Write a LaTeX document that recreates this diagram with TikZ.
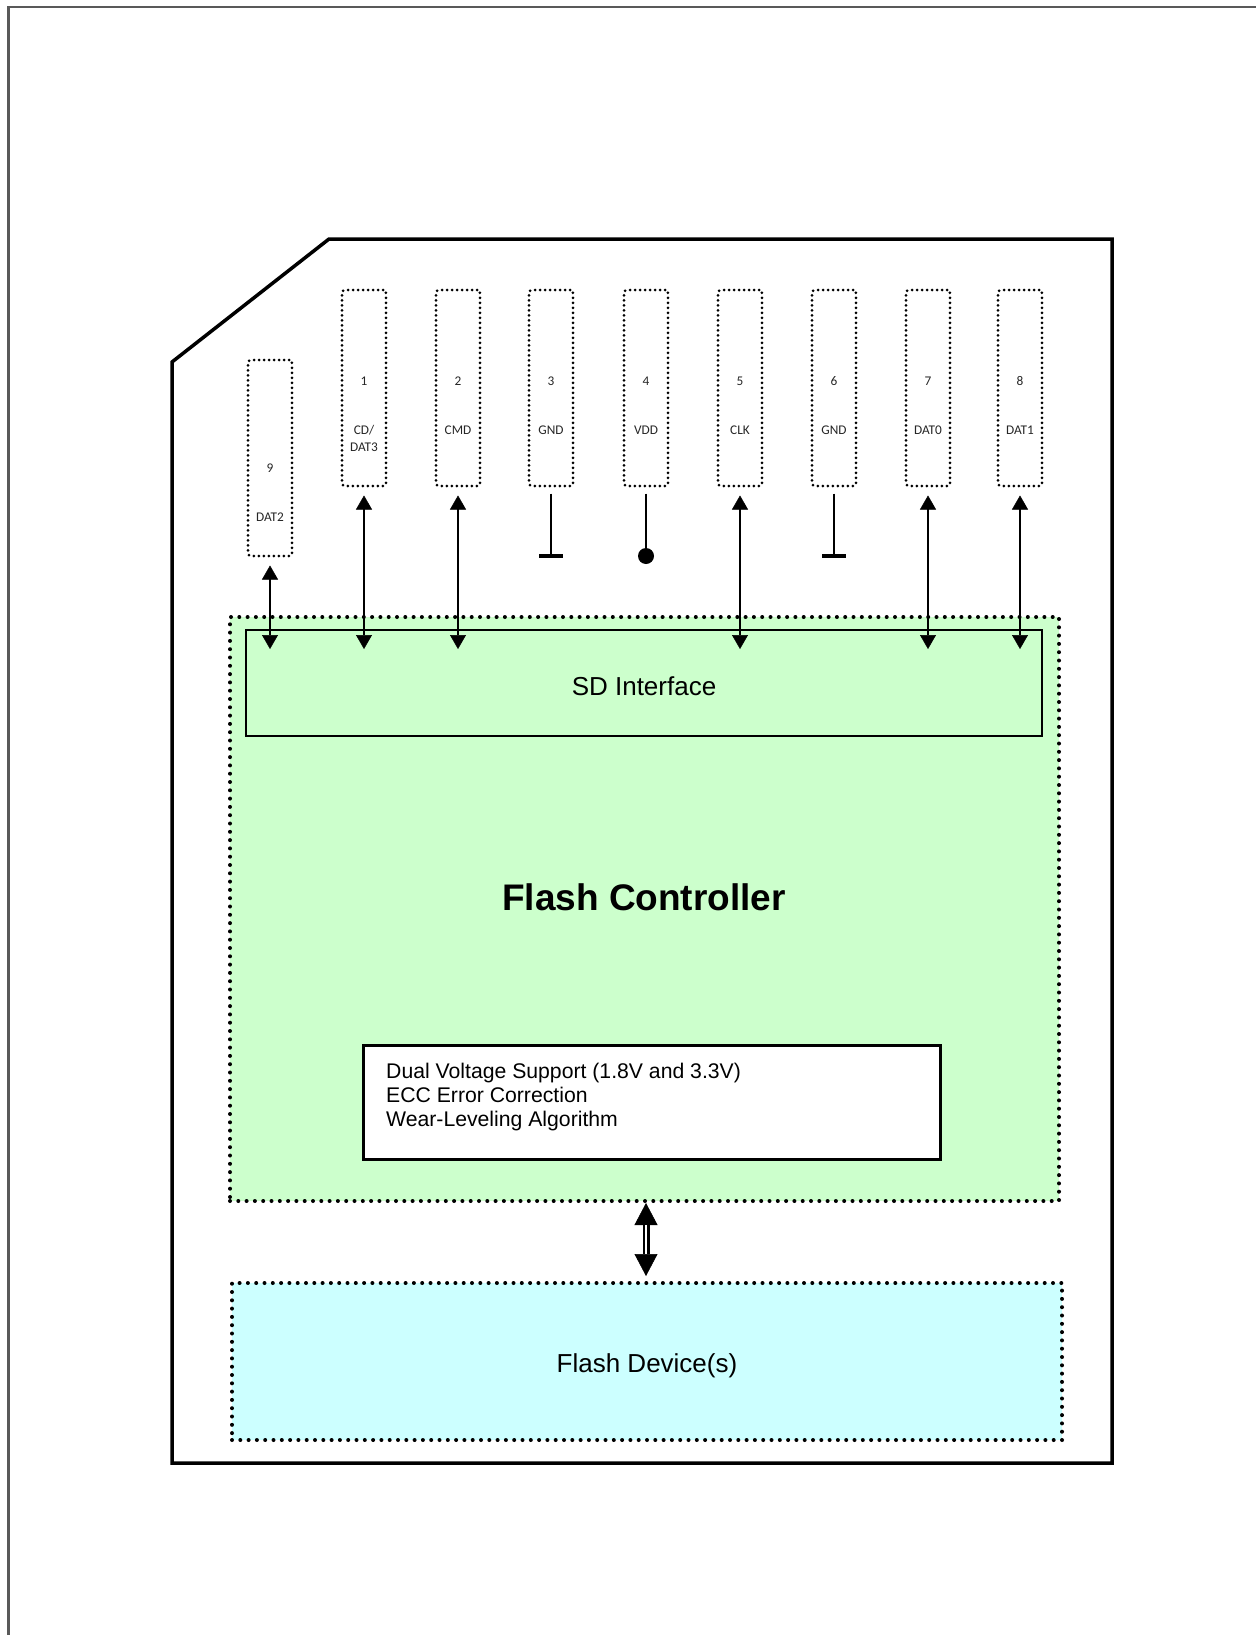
\documentclass[tikz,border=0pt]{standalone}
\usepackage{fontspec}
\setmainfont{Liberation Sans}
\newfontfamily\pinfont{Carlito}
\usetikzlibrary{arrows.meta}

\definecolor{ctrlgreen}{HTML}{CCFFCC}
\definecolor{devcyan}{HTML}{CCFFFF}

\tikzset{
    pinbox/.style={draw, line width=3pt, dash pattern=on 0pt off 5pt, line cap=round,
        rounded corners=3pt, minimum width=44pt, minimum height=196pt, inner sep=0pt},
    pintext/.style={font=\pinfont\fontsize{13.3}{17}\selectfont, text=black!85, inner sep=0pt, align=center},
    dotbox/.style={draw, line width=4pt, dash pattern=on 0pt off 8.3pt, line cap=round, inner sep=0pt},
    sig/.style={line width=2pt, >={Triangle[width=16pt,length=14pt,line width=0.5pt]}, <->},
    bus/.style={line width=7pt, >={Triangle[width=23pt,length=22pt,line width=0.5pt]}, <->},
    wire/.style={line width=2pt},
    gndbar/.style={line width=4pt}
}

\begin{document}
\begin{tikzpicture}[x=1pt, y=-1pt]
    \useasboundingbox (0,0) rectangle (1256,1635);

    % 页面边框
    \draw[black!65, line width=2.5pt] (8.7,1635) -- (8.7,7) -- (1256,7);

    % 卡片外形
    \draw[line width=3.5pt, line join=miter] (329,239) -- (1112,239) -- (1112,1463)
        -- (172,1463) -- (172,362) -- cycle;

    % 控制器
    \node[dotbox, fill=ctrlgreen, minimum width=829pt, minimum height=584pt] (ctrl) at (644.5,909) {};
    \node[draw, line width=1.5pt, minimum width=796pt, minimum height=106pt] (sdif) at (644,683) {};
    \node[font=\fontsize{26}{30}\selectfont] (sdtext) at (644,686) {SD Interface};
    \node[font=\bfseries\fontsize{37}{44}\selectfont] (ctrltext) at (644,897) {Flash Controller};
    \node[draw, fill=white, line width=3pt, minimum width=577pt, minimum height=114pt] (feat) at (651.5,1102) {};
    \node[anchor=west, align=left, inner sep=0pt, font=\fontsize{21.2}{24.3}\selectfont] (feattext) at (386,1097)
        {Dual Voltage Support (1.8V and 3.3V)\\ECC Error Correction\\Wear-Leveling Algorithm};

    % 闪存
    \node[dotbox, fill=devcyan, minimum width=830pt, minimum height=157pt] (dev) at (647,1361.5) {};
    \node[font=\fontsize{26}{30}\selectfont] (devtext) at (647,1365.5) {Flash Device(s)};

    % 引脚
    \node[pinbox] (pin9) at (270,458) {};
    \node[pintext] (num9) at (270,468) {9};
    \node[pintext] (lab9) at (270,517) {DAT2};

    \node[pinbox] (pin1) at (364,388) {};
    \node[pintext] (num1) at (364,381) {1};
    \node[pintext] (lab1) at (364,438.5) {CD/\\DAT3};

    \node[pinbox] (pin2) at (458,388) {};
    \node[pintext] (num2) at (458,381) {2};
    \node[pintext] (lab2) at (458,430) {CMD};

    \node[pinbox] (pin3) at (551,388) {};
    \node[pintext] (num3) at (551,381) {3};
    \node[pintext] (lab3) at (551,430) {GND};

    \node[pinbox] (pin4) at (646,388) {};
    \node[pintext] (num4) at (646,381) {4};
    \node[pintext] (lab4) at (646,430) {VDD};

    \node[pinbox] (pin5) at (740,388) {};
    \node[pintext] (num5) at (740,381) {5};
    \node[pintext] (lab5) at (740,430) {CLK};

    \node[pinbox] (pin6) at (834,388) {};
    \node[pintext] (num6) at (834,381) {6};
    \node[pintext] (lab6) at (834,430) {GND};

    \node[pinbox] (pin7) at (928,388) {};
    \node[pintext] (num7) at (928,381) {7};
    \node[pintext] (lab7) at (928,430) {DAT0};

    \node[pinbox] (pin8) at (1020,388) {};
    \node[pintext] (num8) at (1020,381) {8};
    \node[pintext] (lab8) at (1020,430) {DAT1};

    % 信号线
    \coordinate (sdin) at (0,649);
    \draw[sig, shorten <=8pt] (pin9.south) -- (pin9 |- sdin);
    \draw[sig, shorten <=8pt] (pin1.south) -- (pin1 |- sdin);
    \draw[sig, shorten <=8pt] (pin2.south) -- (pin2 |- sdin);
    \draw[sig, shorten <=8pt] (pin5.south) -- (pin5 |- sdin);
    \draw[sig, shorten <=8pt] (pin7.south) -- (pin7 |- sdin);
    \draw[sig, shorten <=8pt] (pin8.south) -- (pin8 |- sdin);

    % 电源与地
    \coordinate (gnd3) at (551,556);
    \coordinate (vdd) at (646,556);
    \coordinate (gnd6) at (834,556);
    \draw[wire, shorten <=6pt] (pin3.south) -- (gnd3);
    \draw[gndbar] ([xshift=-12pt]gnd3) -- ([xshift=12pt]gnd3);
    \draw[wire, shorten <=6pt] (pin4.south) -- (vdd);
    \fill (vdd) circle (8);
    \draw[wire, shorten <=6pt] (pin6.south) -- (gnd6);
    \draw[gndbar] ([xshift=-12pt]gnd6) -- ([xshift=12pt]gnd6);

    % 控制器与闪存之间
    \draw[bus, shorten >=5pt] (pin4 |- ctrl.south) -- (pin4 |- dev.north);
    \draw[white, line width=2pt, shorten <=22pt, shorten >=27pt] (pin4 |- ctrl.south) -- (pin4 |- dev.north);
\end{tikzpicture}
\end{document}
